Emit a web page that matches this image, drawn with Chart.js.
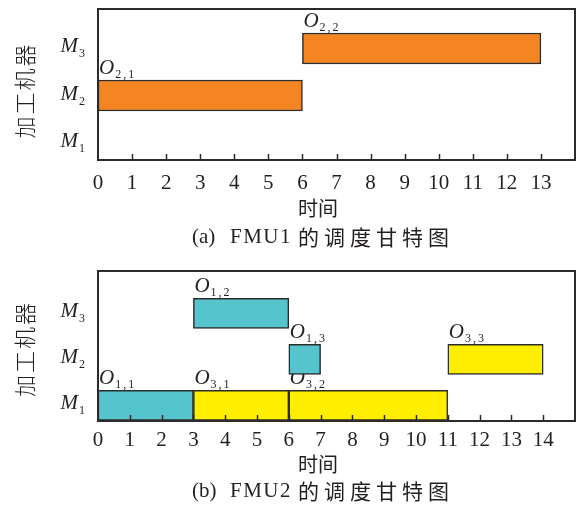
<!DOCTYPE html>
<html><head><meta charset="utf-8">
<script src="https://cdn.jsdelivr.net/npm/chart.js@4.4.1/dist/chart.umd.min.js"></script>
<style>
html,body{margin:0;padding:0;background:#fff;}
#wrap{position:relative;width:577px;height:511px;overflow:hidden;background:#fff;}
#ca{position:absolute;left:0;top:0;}
#cb{position:absolute;left:0;top:256px;}
</style></head><body>
<div id="wrap">
<canvas id="ca" width="577" height="250"></canvas>
<canvas id="cb" width="577" height="255"></canvas>
</div>
<script>
// ---------- data ----------
const machineNames = ['M', 'M', 'M'];
const machineSubs = ['1', '2', '3'];
const machineValues = [1, 2, 3];

const ticksA = [0,1,2,3,4,5,6,7,8,9,10,11,12,13];
const ticksB = [0,1,2,3,4,5,6,7,8,9,10,11,12,13,14];

// FMU1
const opsA = ['2,1', '2,2'];
const machA = [2, 3];
const startA = [0, 6];
const endA = [6, 13];
const jobA = [2, 2];

// FMU2
const opsB = ['1,1', '3,1', '3,2', '1,3', '3,3', '1,2'];
const machB = [1, 1, 1, 2, 2, 3];
const startB = [0, 3, 6, 6, 11, 3];
const endB = [3, 6, 11, 7, 14, 6];
const jobB = [1, 3, 3, 1, 3, 1];

const axisTitleX = '时间';
const axisTitleY = '加工机器';
const captionA = ['(a)', 'FMU1', '的调度甘特图'];
const captionB = ['(b)', 'FMU2', '的调度甘特图'];

// ---------- styles ----------
const jobColors = {1: '#56C4CD', 2: '#F58522', 3: '#FFEE00'};
const TEXT = '#231f20';
const SERIF = '"Liberation Serif","Times New Roman",serif';
const CJK = '"Noto Sans CJK SC","Noto Sans CJK JP",sans-serif';

function drawSub(ctx, x, baseline, main, sub, mainPx, subPx, drop, spacing) {
  ctx.font = 'italic ' + mainPx + 'px ' + SERIF;
  ctx.textAlign = 'left';
  ctx.textBaseline = 'alphabetic';
  ctx.fillText(main, x, baseline);
  const w = ctx.measureText(main).width;
  ctx.font = subPx + 'px ' + SERIF;
  ctx.letterSpacing = spacing + 'px';
  ctx.fillText(sub, x + w + 1, baseline + drop);
  ctx.letterSpacing = '0px';
}
function subWidth(ctx, main, sub, mainPx, subPx) {
  ctx.font = 'italic ' + mainPx + 'px ' + SERIF;
  const w1 = ctx.measureText(main).width;
  ctx.font = subPx + 'px ' + SERIF;
  return w1 + 1 + ctx.measureText(sub).width;
}

const ganttDecor = {
  id: 'ganttDecor',
  beforeDatasetsDraw(chart, args, o) {
    const ctx = chart.ctx;
    const meta = chart.getDatasetMeta(0);
    ctx.save();
    ctx.fillStyle = TEXT;
    o.ops.forEach((op, i) => {
      const el = meta.data[i];
      const left = Math.min(el.base, el.x);
      const top = el.y - el.height / 2;
      drawSub(ctx, left + 1, top - 6, 'O', op, 21, 12, 4, 2);
    });
    ctx.restore();
  },
  afterDraw(chart, args, o) {
    const ctx = chart.ctx;
    const ca = chart.chartArea;
    const xs = chart.scales.x, ys = chart.scales.y;
    ctx.save();
    // frame
    ctx.strokeStyle = '#2b2b2b';
    ctx.lineWidth = 2;
    ctx.strokeRect(ca.left, ca.top, ca.right - ca.left, ca.bottom - ca.top);
    // inward tick marks
    ctx.lineWidth = 1.5;
    ctx.beginPath();
    xs.ticks.forEach(t => {
      if (t.value <= xs.min) return;
      const px = Math.round(xs.getPixelForValue(t.value)) + 0.5;
      ctx.moveTo(px, ca.bottom);
      ctx.lineTo(px, ca.bottom - 6);
    });
    ctx.stroke();
    // machine labels
    ctx.fillStyle = TEXT;
    machineValues.forEach((v, i) => {
      const y = ys.getPixelForValue(v);
      const w = subWidth(ctx, machineNames[i], machineSubs[i], 21, 12);
      drawSub(ctx, 85 - w, y + 4, machineNames[i], machineSubs[i], 21, 12, 5, 0);
    });
    // y title (vertical)
    ctx.save();
    ctx.translate(25, (ca.top + ca.bottom) / 2 + o.yTitleShift);
    ctx.rotate(-Math.PI / 2);
    ctx.font = '300 22px ' + CJK;
    ctx.textAlign = 'center';
    ctx.textBaseline = 'middle';
    ctx.letterSpacing = '2px';
    ctx.fillText(axisTitleY, 0, 0);
    ctx.restore();
    // x title
    ctx.font = '20px ' + CJK;
    ctx.textAlign = 'left';
    ctx.textBaseline = 'middle';
    ctx.letterSpacing = '0px';
    ctx.fillText(axisTitleX, 298, ca.bottom + o.xTitleDy);
    // caption
    const cy = ca.bottom + o.captionDy;
    ctx.font = '21px ' + SERIF;
    ctx.fillText(o.caption[0], 192, cy);
    ctx.letterSpacing = '1.5px';
    ctx.fillText(o.caption[1], 230, cy);
    ctx.font = '21px ' + CJK;
    ctx.letterSpacing = '5px';
    ctx.fillText(o.caption[2], 298, cy);
    ctx.letterSpacing = '0px';
    ctx.restore();
  }
};

function makeChart(id, ops, mach, start, end, job, ticks, xMax, yMin, yMax, barPx, padTop, tickPad, extra) {
  return new Chart(document.getElementById(id), {
    type: 'bar',
    data: {
      datasets: [{
        data: ops.map((op, i) => ({x: [start[i], end[i]], y: mach[i]})),
        backgroundColor: job.map(j => jobColors[j]),
        borderColor: '#2b2b2b',
        borderWidth: 1.5,
        borderSkipped: false,
        barThickness: barPx
      }]
    },
    options: {
      indexAxis: 'y',
      responsive: false,
      animation: false,
      events: [],
      layout: {padding: {left: 98, right: 2, top: padTop, bottom: 0}},
      scales: {
        x: {
          type: 'linear', min: 0, max: xMax, offset: false,
          grid: {display: false, drawTicks: false},
          border: {display: false},
          afterBuildTicks: s => { s.ticks = ticks.map(v => ({value: v})); },
          afterFit: s => { s.height = 90; },
          ticks: {
            autoSkip: false, maxRotation: 0, padding: tickPad,
            color: TEXT,
            font: {family: SERIF, size: 21},
            callback: v => String(v)
          }
        },
        y: {
          type: 'linear', min: yMin, max: yMax, offset: false,
          display: false
        }
      },
      plugins: {
        legend: {display: false},
        tooltip: {enabled: false},
        ganttDecor: Object.assign({ops: ops}, extra)
      }
    },
    plugins: [ganttDecor]
  });
}

makeChart('ca', opsA, machA, startA, endA, jobA, ticksA, 14, 0.628, 3.84, 31, 9, 11,
  {caption: captionA, xTitleDy: 48, captionDy: 77, yTitleShift: 6});
makeChart('cb', opsB, machB, startB, endB, jobB, ticksB, 15, 0.66, 3.92, 30, 15, 7,
  {caption: captionB, xTitleDy: 43, captionDy: 70, yTitleShift: 3});
</script>
</body></html>
